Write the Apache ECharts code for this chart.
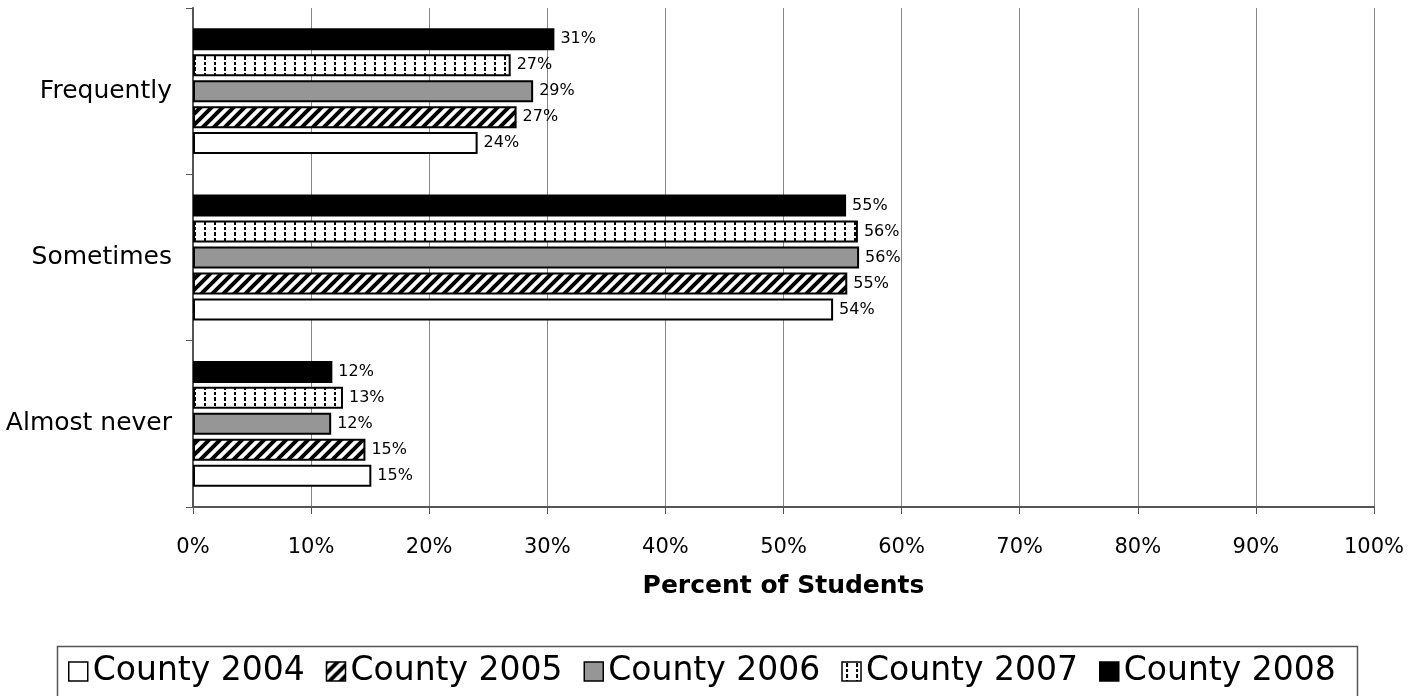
<!DOCTYPE html>
<html>
<head>
<meta charset="utf-8">
<script src="https://cdn.jsdelivr.net/npm/echarts@6/dist/echarts.min.js"></script>
<style>html,body{margin:0;padding:0;background:#fff;}#c{width:1422px;height:696px;}</style>
</head>
<body>
<div id="c"></div>
<script>
const categories = ['Almost never', 'Sometimes', 'Frequently'];
const seriesNames = ['County 2004', 'County 2005', 'County 2006', 'County 2007', 'County 2008'];
const v2004 = [15.1, 54.2, 24.1];
const v2005 = [14.6, 55.4, 27.4];
const v2006 = [11.7, 56.4, 28.8];
const v2007 = [12.7, 56.3, 26.9];
const v2008 = [11.8, 55.3, 30.6];
const xTicks = [0, 10, 20, 30, 40, 50, 60, 70, 80, 90, 100];

const FONT = 'DejaVu Sans';

function makeStripes() {
  const N = 11;
  const c = document.createElement('canvas');
  c.width = N; c.height = N;
  const g = c.getContext('2d');
  g.fillStyle = '#fff'; g.fillRect(0, 0, N, N);
  g.strokeStyle = '#000'; g.lineWidth = 4;
  g.beginPath();
  g.moveTo(-N, N); g.lineTo(N, -N);
  g.moveTo(0, 2 * N); g.lineTo(2 * N, 0);
  g.moveTo(-N, 2 * N); g.lineTo(2 * N, -N);
  g.stroke();
  return c;
}
function makeDashes() {
  const c = document.createElement('canvas');
  c.width = 10; c.height = 11;
  const g = c.getContext('2d');
  g.fillStyle = '#fff'; g.fillRect(0, 0, 10, 11);
  g.fillStyle = '#000';
  g.fillRect(4, 1, 2, 4);
  g.fillRect(4, 7, 2, 3);
  return c;
}

const fills = [
  '#ffffff',
  { image: makeStripes(), repeat: 'repeat' },
  '#969696',
  { image: makeDashes(), repeat: 'repeat' },
  '#000000'
];
const values = [v2004, v2005, v2006, v2007, v2008];

const chart = echarts.init(document.getElementById('c'), null, { renderer: 'canvas' });
// series listed from top bar (2008) to bottom bar (2004)
const series = [4, 3, 2, 1, 0].map(i => ({
  name: seriesNames[i],
  type: 'bar',
  data: values[i],
  barWidth: 22,
  barGap: '18%',
  itemStyle: { color: fills[i], borderColor: '#000', borderWidth: 2 },
  label: {
    show: true, position: 'right', distance: 6,
    formatter: p => Math.round(p.value) + '%',
    color: '#000', fontFamily: FONT, fontSize: 16
  },
  emphasis: { disabled: true }
}));

chart.setOption({
  animation: false,
  backgroundColor: '#fff',
  textStyle: { fontFamily: FONT },
  grid: { left: 193, right: 48, top: 8, bottom: 189, containLabel: false },
  xAxis: {
    type: 'value', min: 0, max: 100, interval: 10,
    axisLabel: { formatter: v => v + '%', fontSize: 21, color: '#000', fontFamily: FONT, margin: 30 },
    axisLine: { show: true, lineStyle: { color: '#555', width: 2 } },
    axisTick: { show: true, length: 7, lineStyle: { color: '#555' } },
    splitLine: { show: true, lineStyle: { color: '#888', width: 1 } },
    name: 'Percent of Students', nameLocation: 'middle', nameGap: 67,
    nameTextStyle: { fontSize: 25, fontWeight: 'bold', color: '#000', fontFamily: FONT }
  },
  yAxis: {
    type: 'category', data: categories,
    axisLabel: { fontSize: 25, color: '#000', fontFamily: FONT, margin: 21 },
    axisLine: { show: true, lineStyle: { color: '#555', width: 2 } },
    axisTick: { show: true, length: 7, lineStyle: { color: '#555' } },
    splitLine: { show: false }
  },
  legend: {
    left: 63, top: 650, padding: 5,
    icon: 'rect', itemWidth: 19, itemHeight: 19, itemGap: 21,
    textStyle: { fontSize: 33, color: '#000', fontFamily: FONT },
    data: seriesNames.map(n => ({ name: n, itemStyle: { borderColor: '#000', borderWidth: 1.5 } }))
  },
  graphic: [{
    type: 'rect', left: 55, top: 644,
    shape: { width: 1300, height: 60 },
    style: { fill: 'none', stroke: '#555', lineWidth: 1.5 },
    silent: true, z: -1
  }],
  series: series
});
</script>
</body>
</html>
